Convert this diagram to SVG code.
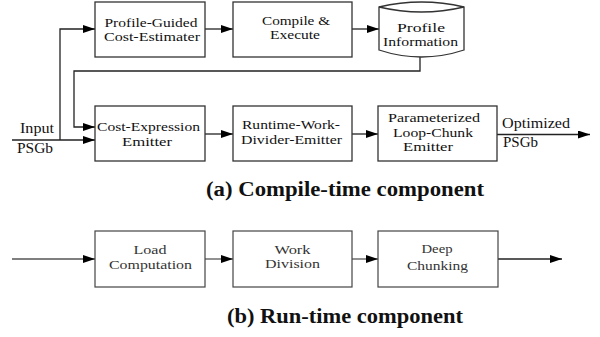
<svg xmlns="http://www.w3.org/2000/svg" width="600" height="337" viewBox="0 0 600 337">
  <defs>
    <marker id="arrow" markerUnits="userSpaceOnUse" markerWidth="13" markerHeight="9" refX="12" refY="4" orient="auto">
      <path d="M0,0 L12,4 L0,8 z" fill="#000"/>
    </marker>
    <style>
      text { font-family: 'Liberation Serif', 'DejaVu Serif', serif; }
      .box { fill: #fff; stroke: #333; stroke-width: 1.3; }
      .box2 { fill: #fff; stroke: #444; stroke-width: 1.2; }
      .lbl { font-size: 12.5px; fill: #111; text-anchor: middle; }
      .lbl2 { font-size: 13px; fill: #333; text-anchor: middle; }
      .edge { font-size: 14px; fill: #111; }
      .wire { fill: none; stroke: #222; stroke-width: 1.3; }
      .wire2 { fill: none; stroke: #555; stroke-width: 1.3; }
      .cap { font-size: 20.5px; font-weight: bold; fill: #111; }
    </style>
  </defs>

  <!-- compile-time connectors -->
  <g id="connectors">
    <path class="wire" d="M12,140 H95" marker-end="url(#arrow)"/>
    <path class="wire" d="M60,140 V29 H95" marker-end="url(#arrow)"/>
    <path class="wire" d="M205,29 H233" marker-end="url(#arrow)"/>
    <path class="wire" d="M352,29 H379" marker-end="url(#arrow)"/>
    <path class="wire" d="M420,57 V71 H74 V127 H95" marker-end="url(#arrow)"/>
    <path class="wire" d="M205,134 H233" marker-end="url(#arrow)"/>
    <path class="wire" d="M352,134 H378" marker-end="url(#arrow)"/>
    <path class="wire" d="M497,134.5 H590" marker-end="url(#arrow)"/>
    <!-- run-time connectors -->
    <path class="wire2" d="M12,259 H95" marker-end="url(#arrow)"/>
    <path class="wire2" d="M205,259 H233" marker-end="url(#arrow)"/>
    <path class="wire2" d="M352,259 H378" marker-end="url(#arrow)"/>
    <path class="wire" d="M498,259 H562" marker-end="url(#arrow)"/>
    <text class="edge" x="20" y="133" textLength="34" lengthAdjust="spacingAndGlyphs">Input</text>
    <text class="edge" x="17" y="153" textLength="36" lengthAdjust="spacingAndGlyphs">PSGb</text>
    <text class="edge" x="502" y="128" textLength="68" lengthAdjust="spacingAndGlyphs">Optimized</text>
    <text class="edge" x="503" y="147" textLength="35" lengthAdjust="spacingAndGlyphs">PSGb</text>
  </g>

  <!-- compile-time nodes -->
  <g id="profile-guided">
    <rect class="box" x="95" y="2" width="110" height="55"/>
    <text class="lbl" x="151" y="26.5" textLength="93" lengthAdjust="spacingAndGlyphs">Profile-Guided</text>
    <text class="lbl" x="152" y="40.5" textLength="96" lengthAdjust="spacingAndGlyphs">Cost-Estimater</text>
  </g>
  <g id="compile-execute">
    <rect class="box" x="233" y="2" width="119" height="55"/>
    <text class="lbl" x="296" y="24.5" textLength="68" lengthAdjust="spacingAndGlyphs">Compile &amp;</text>
    <text class="lbl" x="295" y="38.5" textLength="50" lengthAdjust="spacingAndGlyphs">Execute</text>
  </g>
  <g id="profile-information">
    <path class="box" d="M379,7 Q421.5,-3 464,7 V50 Q421.5,64 379,50 Z"/>
    <path class="box" d="M379,7 Q421.5,17 464,7" fill="none"/>
    <text class="lbl" x="421" y="31.5" textLength="48" lengthAdjust="spacingAndGlyphs">Profile</text>
    <text class="lbl" x="420.5" y="45.5" textLength="75" lengthAdjust="spacingAndGlyphs">Information</text>
  </g>
  <g id="cost-expression">
    <rect class="box" x="95" y="106" width="110" height="55"/>
    <text class="lbl" x="148.5" y="131" textLength="103" lengthAdjust="spacingAndGlyphs">Cost-Expression</text>
    <text class="lbl" x="147" y="146" textLength="50" lengthAdjust="spacingAndGlyphs">Emitter</text>
  </g>
  <g id="runtime-work-divider">
    <rect class="box" x="233" y="106" width="119" height="55"/>
    <text class="lbl" x="291" y="129" textLength="98" lengthAdjust="spacingAndGlyphs">Runtime-Work-</text>
    <text class="lbl" x="291.5" y="144" textLength="101" lengthAdjust="spacingAndGlyphs">Divider-Emitter</text>
  </g>
  <g id="loop-chunk-emitter">
    <rect class="box" x="378" y="106" width="119" height="55"/>
    <text class="lbl" x="434" y="122" textLength="92" lengthAdjust="spacingAndGlyphs">Parameterized</text>
    <text class="lbl" x="433" y="136.5" textLength="80" lengthAdjust="spacingAndGlyphs">Loop-Chunk</text>
    <text class="lbl" x="428" y="151" textLength="50" lengthAdjust="spacingAndGlyphs">Emitter</text>
  </g>

  <text class="cap" x="206" y="196" textLength="278" lengthAdjust="spacingAndGlyphs">(a) Compile-time component</text>

  <!-- run-time nodes -->
  <g id="load-computation">
    <rect class="box2" x="95" y="231" width="110" height="56"/>
    <text class="lbl2" x="150" y="254" textLength="33" lengthAdjust="spacingAndGlyphs">Load</text>
    <text class="lbl2" x="150.5" y="269" textLength="83" lengthAdjust="spacingAndGlyphs">Computation</text>
  </g>
  <g id="work-division">
    <rect class="box2" x="233" y="231" width="119" height="56"/>
    <text class="lbl2" x="292.5" y="254" textLength="36" lengthAdjust="spacingAndGlyphs">Work</text>
    <text class="lbl2" x="292.5" y="268" textLength="55" lengthAdjust="spacingAndGlyphs">Division</text>
  </g>
  <g id="deep-chunking">
    <rect class="box2" x="378" y="231" width="120" height="56"/>
    <text class="lbl2" x="437" y="253" textLength="31" lengthAdjust="spacingAndGlyphs">Deep</text>
    <text class="lbl2" x="437.5" y="270" textLength="61" lengthAdjust="spacingAndGlyphs">Chunking</text>
  </g>

  <text class="cap" x="227" y="323" textLength="236" lengthAdjust="spacingAndGlyphs">(b) Run-time component</text>
</svg>
